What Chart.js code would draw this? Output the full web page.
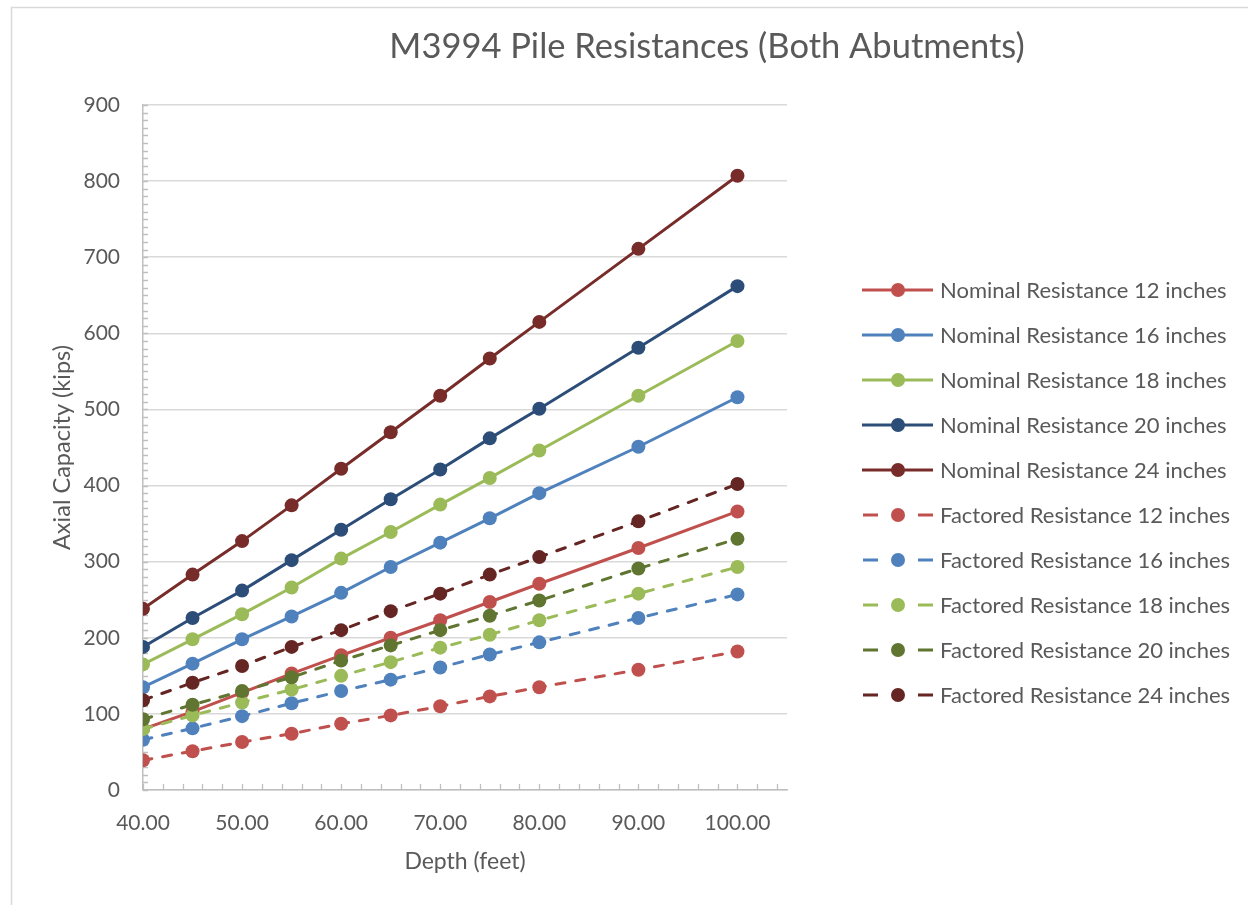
<!DOCTYPE html>
<html>
<head>
<meta charset="utf-8">
<title>M3994 Pile Resistances</title>
<script src="https://cdn.jsdelivr.net/npm/chart.js@4.4.0/dist/chart.umd.min.js"></script>
<style>
    html, body { margin: 0; padding: 0; background: #ffffff; }
    #pilesChart { display: block; }
</style>
</head>
<body>
<canvas id="pilesChart" width="1248" height="905"></canvas>
<script>
// ====================================
// DATOS
// ====================================

// Profundidad (pies)
const depths = [40, 45, 50, 55, 60, 65, 70, 75, 80, 90, 100];

// Resistencia nominal (kips)
const nominal12 = [80, 103, 128, 153, 177, 200, 223, 247, 271, 318, 366];
const nominal16 = [135, 166, 198, 228, 259, 293, 325, 357, 390, 451, 516];
const nominal18 = [165, 198, 231, 266, 304, 339, 375, 410, 446, 518, 590];
const nominal20 = [188, 226, 262, 302, 342, 382, 421, 462, 501, 581, 662];
const nominal24 = [238, 283, 327, 374, 422, 470, 518, 567, 615, 711, 807];

// Resistencia factorizada (kips)
const factored12 = [39, 51, 63, 74, 87, 98, 110, 123, 135, 158, 182];
const factored16 = [66, 81, 97, 114, 130, 145, 161, 178, 194, 226, 257];
const factored18 = [80, 98, 115, 132, 150, 168, 187, 204, 223, 258, 293];
const factored20 = [93, 112, 130, 148, 170, 190, 210, 229, 249, 291, 330];
const factored24 = [118, 141, 163, 188, 210, 235, 258, 283, 306, 353, 402];

const seriesLabels = [
    'Nominal Resistance 12 inches',
    'Nominal Resistance 16 inches',
    'Nominal Resistance 18 inches',
    'Nominal Resistance 20 inches',
    'Nominal Resistance 24 inches',
    'Factored Resistance 12 inches',
    'Factored Resistance 16 inches',
    'Factored Resistance 18 inches',
    'Factored Resistance 20 inches',
    'Factored Resistance 24 inches'
];
const seriesValues = [
    nominal12, nominal16, nominal18, nominal20, nominal24,
    factored12, factored16, factored18, factored20, factored24
];
const seriesColors = [
    '#c0504d', '#4f81bd', '#9bbb59', '#2c4d78', '#772c2a',
    '#c0504d', '#4f81bd', '#9bbb59', '#5f7530', '#652523'
];
const seriesDashed = [false, false, false, false, false, true, true, true, true, true];

// Ejes
const xTicks = [40, 50, 60, 70, 80, 90, 100];
const yTicks = [0, 100, 200, 300, 400, 500, 600, 700, 800, 900];
const xMin = 40;
const xMax = 105;

const chartTitle = 'M3994 Pile Resistances (Both Abutments)';
const xTitle = 'Depth (feet)';
const yTitle = 'Axial Capacity (kips)';

// ====================================
// ESTILOS
// ====================================
const FONT = 'Lato, "Open Sans", sans-serif';
const TEXT_COLOR = '#595959';
const AXIS_COLOR = '#bfbfbf';
const GRID_COLOR = '#d9d9d9';

// ====================================
// PLUGINS
// ====================================

// Marco del área del gráfico y título
const chartFrame = {
    id: 'chartFrame',
    beforeDraw(chart) {
        const ctx = chart.ctx;
        ctx.save();
        ctx.fillStyle = '#ffffff';
        ctx.fillRect(0, 0, chart.width, chart.height);
        ctx.strokeStyle = GRID_COLOR;
        ctx.lineWidth = 1.5;
        ctx.strokeRect(11.5, 7.5, chart.width + 50, chart.height + 50);
        ctx.restore();
    },
    afterDraw(chart) {
        const ctx = chart.ctx;
        ctx.save();
        ctx.fillStyle = TEXT_COLOR;
        ctx.font = '34.5px ' + FONT;
        ctx.textAlign = 'center';
        ctx.textBaseline = 'middle';
        ctx.fillText(chartTitle, 707, 47);
        ctx.restore();
    }
};

// Marcas menores hacia dentro en ambos ejes
const minorTicks = {
    id: 'minorTicks',
    beforeDatasetsDraw(chart) {
        const { ctx, scales: { x, y } } = chart;
        ctx.save();
        ctx.strokeStyle = AXIS_COLOR;
        ctx.lineWidth = 1.3;
        ctx.beginPath();
        for (let v = xMin; v <= xMax; v += 2) {
            const px = Math.round(x.getPixelForValue(v)) + 0.5;
            ctx.moveTo(px, y.bottom);
            ctx.lineTo(px, y.bottom - 6);
        }
        for (let v = 0; v <= yTicks[yTicks.length - 1]; v += 10) {
            const py = Math.round(y.getPixelForValue(v)) + 0.5;
            ctx.moveTo(x.left, py);
            ctx.lineTo(x.left + 5, py);
        }
        ctx.stroke();
        ctx.restore();
    }
};

// Leyenda a la derecha: línea + marcador + texto
const sideLegend = {
    id: 'sideLegend',
    afterDraw(chart) {
        const ctx = chart.ctx;
        const top = 290;
        const step = 45;
        chart.data.datasets.forEach((ds, i) => {
            const cy = top + i * step;
            ctx.save();
            ctx.strokeStyle = ds.borderColor;
            ctx.lineWidth = 3;
            ctx.beginPath();
            if (ds.borderDash.length) {
                ctx.moveTo(863, cy); ctx.lineTo(878, cy);
                ctx.moveTo(918, cy); ctx.lineTo(933, cy);
            } else {
                ctx.moveTo(862, cy); ctx.lineTo(933, cy);
            }
            ctx.stroke();
            ctx.fillStyle = ds.pointBackgroundColor;
            ctx.beginPath();
            ctx.arc(898, cy, 7, 0, Math.PI * 2);
            ctx.fill();
            ctx.fillStyle = TEXT_COLOR;
            ctx.font = '22px ' + FONT;
            ctx.textAlign = 'left';
            ctx.textBaseline = 'middle';
            ctx.fillText(ds.label, 940, cy + 1);
            ctx.restore();
        });
    }
};

// ====================================
// GRÁFICO
// ====================================
function buildDatasets() {
    return seriesLabels.map((label, i) => ({
        label: label,
        data: depths.map((d, j) => ({ x: d, y: seriesValues[i][j] })),
        borderColor: seriesColors[i],
        backgroundColor: seriesColors[i],
        pointBackgroundColor: seriesColors[i],
        pointBorderColor: seriesColors[i],
        pointBorderWidth: 0,
        pointRadius: 7,
        borderWidth: 3,
        borderDash: seriesDashed[i] ? [9, 11] : [],
        borderCapStyle: seriesDashed[i] ? 'round' : 'butt',
        tension: 0,
        fill: false,
        order: seriesLabels.length - i
    }));
}

function renderPilesChart() {
    const ctx = document.getElementById('pilesChart').getContext('2d');

    new Chart(ctx, {
        type: 'line',
        data: { datasets: buildDatasets() },
        options: {
            responsive: false,
            animation: false,
            devicePixelRatio: 1,
            layout: {
                padding: { left: 0, top: 105, right: 461, bottom: 0 }
            },
            plugins: {
                legend: { display: false },
                title: { display: false },
                tooltip: { enabled: false }
            },
            scales: {
                x: {
                    type: 'linear',
                    min: xMin,
                    max: xMax,
                    border: { color: AXIS_COLOR, width: 1.5 },
                    grid: { drawOnChartArea: false, drawTicks: false },
                    afterBuildTicks(scale) {
                        scale.ticks = xTicks.map(v => ({ value: v }));
                    },
                    ticks: {
                        autoSkip: false,
                        padding: 21,
                        color: TEXT_COLOR,
                        font: { family: FONT, size: 21 },
                        maxRotation: 0,
                        callback: (v) => Number(v).toFixed(2)
                    },
                    title: {
                        display: true,
                        text: xTitle,
                        color: TEXT_COLOR,
                        font: { family: FONT, size: 23 },
                        padding: { top: 0, bottom: 30 }
                    },
                    afterFit(scale) {
                        scale.height = 115;
                        scale.paddingLeft = 0;
                        scale.paddingRight = 0;
                    }
                },
                y: {
                    min: 0,
                    max: 900,
                    border: { color: AXIS_COLOR, width: 1.5 },
                    grid: { color: GRID_COLOR, lineWidth: 1.5, drawTicks: false },
                    afterBuildTicks(scale) {
                        scale.ticks = yTicks.map(v => ({ value: v }));
                    },
                    ticks: {
                        padding: 23,
                        color: TEXT_COLOR,
                        font: { family: FONT, size: 21 }
                    },
                    title: {
                        display: true,
                        text: yTitle,
                        color: TEXT_COLOR,
                        font: { family: FONT, size: 23.5 },
                        padding: { top: 48, bottom: 0 }
                    },
                    afterFit(scale) {
                        scale.width = 143;
                        scale.paddingTop = 0;
                        scale.paddingBottom = 0;
                    }
                }
            }
        },
        plugins: [chartFrame, minorTicks, sideLegend]
    });
}

renderPilesChart();
</script>
</body>
</html>
